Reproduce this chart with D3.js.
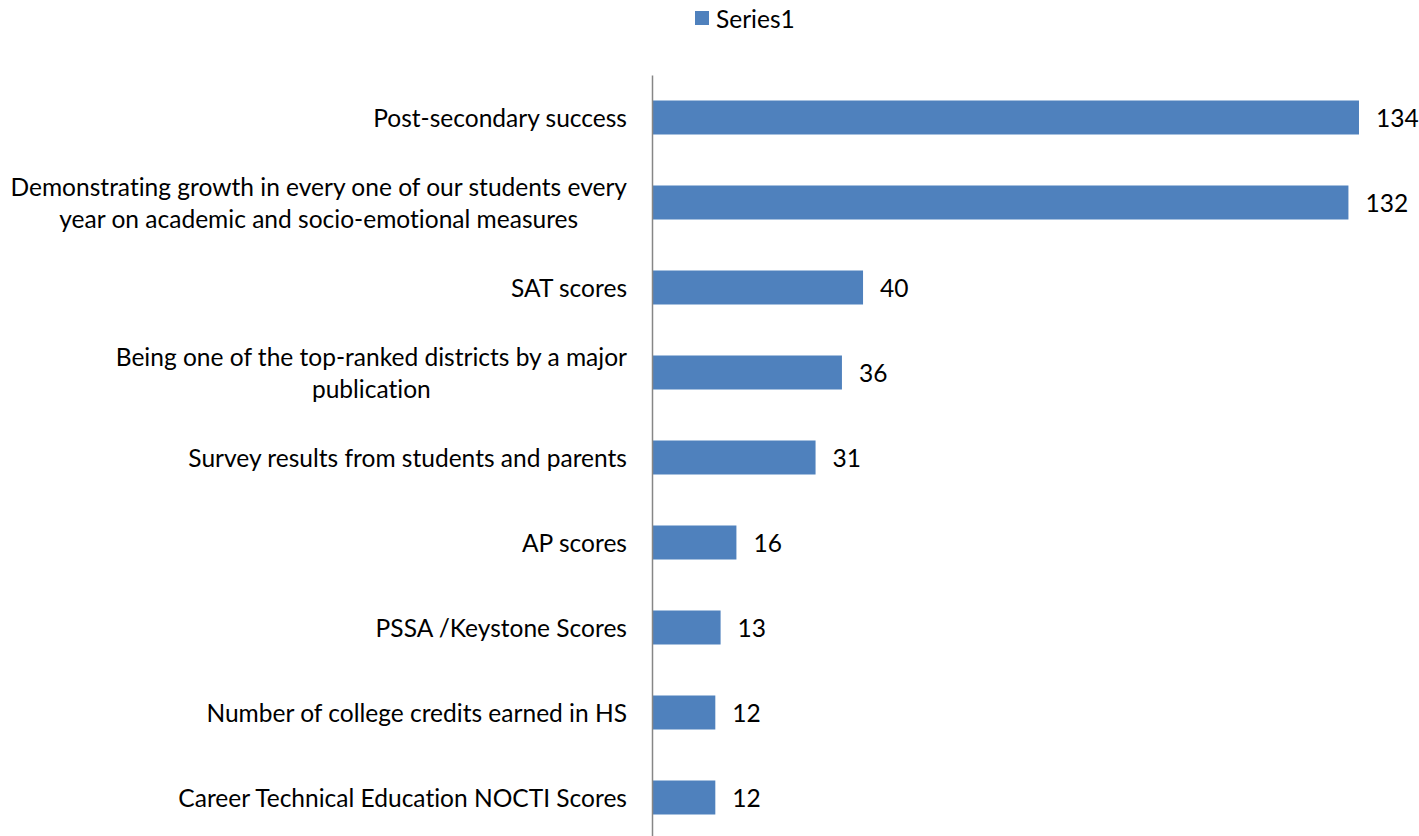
<!DOCTYPE html>
<html>
<head>
<meta charset="utf-8">
<script src="https://cdn.jsdelivr.net/npm/d3@7"></script>
<style>
  html, body { margin: 0; padding: 0; background: #fff; }
  svg { display: block; }
  text { font-family: Lato, "Open Sans", sans-serif; fill: #000; font-variant-ligatures: none; }
</style>
</head>
<body>
<svg id="chart" width="1419" height="836"></svg>
<script>
const categories = [
  "Post-secondary success",
  "Demonstrating growth in every one of our students every|year on academic and socio-emotional measures",
  "SAT scores",
  "Being one of the top-ranked districts by a major|publication",
  "Survey results from students and parents",
  "AP scores",
  "PSSA /Keystone Scores",
  "Number of college credits earned in HS",
  "Career Technical Education NOCTI Scores"
];
const values = [134, 132, 40, 36, 31, 16, 13, 12, 12];
const seriesName = "Series1";

const svg = d3.select("#chart");
const color = "#4F81BD";

// fit font size so the reference label width is matched
const probe = svg.append("text").attr("font-size", 100).text("Post-secondary success");
const pw = probe.node().getComputedTextLength();
probe.remove();
const fs = Math.min(25, 100 * 254 / pw);

const x = d3.scaleLinear().domain([0, 140]).range([652, 652 + 140 * 5.276]);
const y = d3.scaleBand().domain(d3.range(categories.length)).range([75, 840])
  .paddingInner(0.6).paddingOuter(0.3);

// bars
svg.append("g").selectAll("rect").data(values).join("rect")
  .attr("x", x(0))
  .attr("y", (d, i) => y(i))
  .attr("width", d => x(d) - x(0))
  .attr("height", y.bandwidth())
  .attr("fill", color);

// axis line
const axis = d3.axisLeft(y).tickSize(0).tickFormat("");
const ag = svg.append("g").attr("transform", `translate(${x(0)},0)`).call(axis);
ag.select(".domain").attr("stroke", "#868686").attr("stroke-width", 1.5);

// category labels
const lineH = 32;
const lg = svg.append("g");
categories.forEach((c, i) => {
  const lines = c.split("|");
  const cy = y(i) + y.bandwidth() / 2;
  const t = lg.append("text")
    .attr("font-size", fs)
    .attr("dominant-baseline", "central");
  if (lines.length === 1) {
    t.attr("x", 627).attr("y", cy).attr("text-anchor", "end").text(c);
  } else {
    const widths = lines.map(l => {
      const p = svg.append("text").attr("font-size", fs).text(l);
      const w = p.node().getComputedTextLength(); p.remove(); return w;
    });
    const maxW = d3.max(widths);
    const centerX = 627 - maxW / 2;
    lines.forEach((l, k) => {
      t.append("tspan")
        .attr("x", centerX)
        .attr("y", cy - 1 + (k - (lines.length - 1) / 2) * lineH)
        .attr("text-anchor", "middle")
        .text(l);
    });
  }
});

// value labels
svg.append("g").selectAll("text").data(values).join("text")
  .attr("x", d => x(d) + 17)
  .attr("y", (d, i) => y(i) + y.bandwidth() / 2)
  .attr("dominant-baseline", "central")
  .attr("font-size", fs)
  .text(d => d);

// legend
const leg = svg.append("g");
leg.append("rect").attr("x", 695).attr("y", 11).attr("width", 14).attr("height", 14).attr("fill", color);
leg.append("text").attr("x", 716).attr("y", 18).attr("dominant-baseline", "central")
  .attr("font-size", fs).text(seriesName);
</script>
</body>
</html>
